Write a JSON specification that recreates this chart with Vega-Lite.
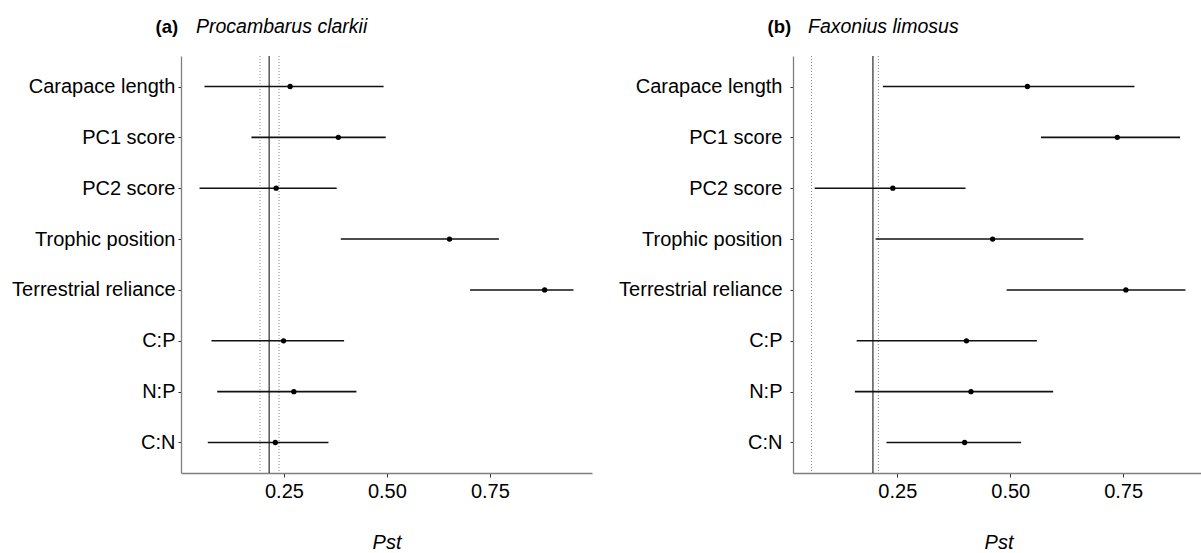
{
  "$schema": "https://vega.github.io/schema/vega-lite/v6.json",
  "background": "white",
  "padding": {"left": 11, "top": 16, "right": 0, "bottom": 0},
  "spacing": 26,
  "config": {
    "font": "Liberation Sans",
    "view": {"stroke": null},
    "axis": {
      "grid": false,
      "labelFont": "Liberation Sans",
      "labelFontSize": 20,
      "labelColor": "black",
      "titleFont": "Liberation Sans",
      "titleColor": "black",
      "domainColor": "#7f7f7f",
      "domainWidth": 1.3,
      "tickColor": "#333333",
      "tickWidth": 1
    }
  },
  "datasets": {
    "a": [
      {"trait": "Carapace length", "lo": 0.057, "est": 0.265, "hi": 0.492},
      {"trait": "PC1 score", "lo": 0.171, "est": 0.382, "hi": 0.497},
      {"trait": "PC2 score", "lo": 0.045, "est": 0.231, "hi": 0.378},
      {"trait": "Trophic position", "lo": 0.388, "est": 0.652, "hi": 0.772},
      {"trait": "Terrestrial reliance", "lo": 0.702, "est": 0.883, "hi": 0.953},
      {"trait": "C:P", "lo": 0.074, "est": 0.249, "hi": 0.396},
      {"trait": "N:P", "lo": 0.088, "est": 0.274, "hi": 0.426},
      {"trait": "C:N", "lo": 0.065, "est": 0.229, "hi": 0.358}
    ],
    "aRef": [
      {"kind": "lower", "value": 0.192},
      {"kind": "mean", "value": 0.214},
      {"kind": "upper", "value": 0.238}
    ],
    "b": [
      {"trait": "Carapace length", "lo": 0.218, "est": 0.538, "hi": 0.775},
      {"trait": "PC1 score", "lo": 0.568, "est": 0.737, "hi": 0.876},
      {"trait": "PC2 score", "lo": 0.067, "est": 0.240, "hi": 0.401},
      {"trait": "Trophic position", "lo": 0.202, "est": 0.461, "hi": 0.662},
      {"trait": "Terrestrial reliance", "lo": 0.492, "est": 0.756, "hi": 0.888},
      {"trait": "C:P", "lo": 0.160, "est": 0.403, "hi": 0.559},
      {"trait": "N:P", "lo": 0.156, "est": 0.413, "hi": 0.595},
      {"trait": "C:N", "lo": 0.226, "est": 0.399, "hi": 0.524}
    ],
    "bRef": [
      {"kind": "lower", "value": 0.060},
      {"kind": "mean", "value": 0.196},
      {"kind": "upper", "value": 0.208}
    ]
  },
  "hconcat": [
    {
      "width": 411,
      "height": 417,
      "title": {
        "text": "Procambarus clarkii",
        "anchor": "start",
        "frame": "group",
        "dx": 15,
        "font": "Liberation Sans",
        "fontSize": 19.5,
        "fontWeight": "normal",
        "fontStyle": "italic",
        "color": "black",
        "baseline": "top",
        "offset": -19.5
      },
      "layer": [
        {
          "data": {"name": "aRef"},
          "transform": [{"filter": "datum.kind == 'mean'"}],
          "mark": {"type": "rule", "color": "black", "strokeWidth": 1},
          "encoding": {
            "x": {
              "field": "value", "type": "quantitative",
              "scale": {"domain": [0, 0.998], "nice": false, "zero": false},
              "axis": {
                "values": [0.25, 0.5, 0.75], "format": ".2f",
                "tickSize": 4, "labelPadding": 4,
                "title": "Pst", "titleFontStyle": "italic", "titleFontWeight": "normal",
                "titleFontSize": 20, "titlePadding": 31
              }
            }
          }
        },
        {
          "data": {"name": "aRef"},
          "transform": [{"filter": "datum.kind != 'mean'"}],
          "mark": {"type": "rule", "color": "#8a8a8a", "strokeWidth": 1, "strokeDash": [1, 2]},
          "encoding": {
            "x": {"field": "value", "type": "quantitative", "scale": {"domain": [0, 0.998], "nice": false, "zero": false}}
          }
        },
        {
          "data": {"name": "a"},
          "mark": {"type": "rule", "color": "#111111", "strokeWidth": 1.6},
          "encoding": {
            "y": {
              "field": "trait", "type": "nominal",
              "sort": ["Carapace length", "PC1 score", "PC2 score", "Trophic position", "Terrestrial reliance", "C:P", "N:P", "C:N"],
              "scale": {"type": "point", "padding": 0.6},
              "axis": {
                "title": "(a)", "titleAngle": 0, "titleAlign": "left", "titleBaseline": "top",
                "titleX": -26, "titleY": -38.5, "titleFontSize": 18.5, "titleFontWeight": "bold",
                "tickSize": 3, "labelPadding": 3, "labelLimit": 400
              }
            },
            "x": {"field": "lo", "type": "quantitative", "scale": {"domain": [0, 0.998], "nice": false, "zero": false}},
            "x2": {"field": "hi"}
          }
        },
        {
          "data": {"name": "a"},
          "mark": {"type": "point", "filled": true, "color": "black", "size": 28, "opacity": 1},
          "encoding": {
            "y": {
              "field": "trait", "type": "nominal",
              "sort": ["Carapace length", "PC1 score", "PC2 score", "Trophic position", "Terrestrial reliance", "C:P", "N:P", "C:N"]
            },
            "x": {"field": "est", "type": "quantitative", "scale": {"domain": [0, 0.998], "nice": false, "zero": false}}
          }
        }
      ]
    },
    {
      "width": 411,
      "height": 417,
      "title": {
        "text": "Faxonius limosus",
        "anchor": "start",
        "frame": "group",
        "dx": 15,
        "font": "Liberation Sans",
        "fontSize": 19.5,
        "fontWeight": "normal",
        "fontStyle": "italic",
        "color": "black",
        "baseline": "top",
        "offset": -19.5
      },
      "layer": [
        {
          "data": {"name": "bRef"},
          "transform": [{"filter": "datum.kind == 'mean'"}],
          "mark": {"type": "rule", "color": "black", "strokeWidth": 1},
          "encoding": {
            "x": {
              "field": "value", "type": "quantitative",
              "scale": {"domain": [0.019, 0.929], "nice": false, "zero": false},
              "axis": {
                "values": [0.25, 0.5, 0.75], "format": ".2f",
                "tickSize": 4, "labelPadding": 4,
                "title": "Pst", "titleFontStyle": "italic", "titleFontWeight": "normal",
                "titleFontSize": 20, "titlePadding": 31
              }
            }
          }
        },
        {
          "data": {"name": "bRef"},
          "transform": [{"filter": "datum.kind != 'mean'"}],
          "mark": {"type": "rule", "color": "#8a8a8a", "strokeWidth": 1, "strokeDash": [1, 2]},
          "encoding": {
            "x": {"field": "value", "type": "quantitative", "scale": {"domain": [0.019, 0.929], "nice": false, "zero": false}}
          }
        },
        {
          "data": {"name": "b"},
          "mark": {"type": "rule", "color": "#111111", "strokeWidth": 1.6},
          "encoding": {
            "y": {
              "field": "trait", "type": "nominal",
              "sort": ["Carapace length", "PC1 score", "PC2 score", "Trophic position", "Terrestrial reliance", "C:P", "N:P", "C:N"],
              "scale": {"type": "point", "padding": 0.6},
              "axis": {
                "title": "(b)", "titleAngle": 0, "titleAlign": "left", "titleBaseline": "top",
                "titleX": -26, "titleY": -38.5, "titleFontSize": 18.5, "titleFontWeight": "bold",
                "tickSize": 3, "labelPadding": 8, "labelLimit": 400
              }
            },
            "x": {"field": "lo", "type": "quantitative", "scale": {"domain": [0.019, 0.929], "nice": false, "zero": false}},
            "x2": {"field": "hi"}
          }
        },
        {
          "data": {"name": "b"},
          "mark": {"type": "point", "filled": true, "color": "black", "size": 28, "opacity": 1},
          "encoding": {
            "y": {
              "field": "trait", "type": "nominal",
              "sort": ["Carapace length", "PC1 score", "PC2 score", "Trophic position", "Terrestrial reliance", "C:P", "N:P", "C:N"]
            },
            "x": {"field": "est", "type": "quantitative", "scale": {"domain": [0.019, 0.929], "nice": false, "zero": false}}
          }
        }
      ]
    }
  ]
}
